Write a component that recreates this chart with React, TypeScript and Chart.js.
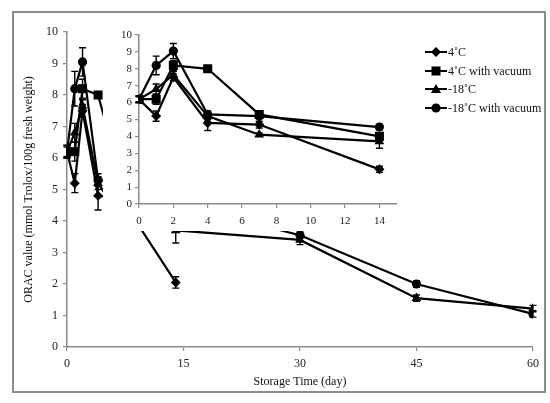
import React, { useEffect, useRef } from "react";
import { Chart, registerables } from "chart.js";

Chart.register(...registerables);

// storage days and ORAC values (mmol Trolox/100g fresh weight)
const days = [0, 1, 2, 4, 7, 14, 30, 45, 60];
const seriesNames = ["4˚C", "4˚C with vacuum", "-18˚C", "-18˚C with vacuum"];
const chilled = [6.2, 5.2, 7.5, 4.8, 4.7, 2.05];
const chilledVacuum = [6.2, 6.2, 8.2, 8.0, 5.3, 4.0];
const frozen = [6.2, 6.8, 7.65, 5.2, 4.1, 3.7, 3.4, 1.55, 1.22];
const frozenVacuum = [6.2, 8.2, 9.05, 5.3, 5.2, 4.55, 3.55, 2.0, 1.05];

// standard deviations (error bars)
const chilledErr = [0.15, 0.3, 0.2, 0.45, 0.2, 0.18];
const chilledVacuumErr = [0.2, 0.3, 0.3, 0.1, 0.2, 0.2];
const frozenErr = [0.2, 0.3, 0.2, 0.2, 0.1, 0.4, 0.15, 0.1, 0.1];
const frozenVacuumErr = [0.2, 0.55, 0.45, 0.2, 0.1, 0.15, 0.1, 0.1, 0.1];

const mainXTicks = [0, 15, 30, 45, 60];
const insetXTicks = [0, 2, 4, 6, 8, 10, 12, 14];

const pointStyles = ["rectRot", "rect", "triangle", "circle"];
const pointRadii = [5, 6.4, 5.6, 4.6];

const FONT = "'Liberation Serif', 'Times New Roman', serif";
const AXIS = "#8a8a8a";

const errorBars = {
  id: "errorBars",
  afterDatasetsDraw(chart: any) {
    const { ctx, scales } = chart;
    ctx.save();
    ctx.strokeStyle = "#000";
    ctx.lineWidth = 1.4;
    chart.data.datasets.forEach((ds: any) => {
      ds.data.forEach((p: any, j: number) => {
        const e = ds.errors[j];
        if (!e) return;
        const px = scales.x.getPixelForValue(p.x);
        const top = scales.y.getPixelForValue(p.y + e);
        const bot = scales.y.getPixelForValue(p.y - e);
        ctx.beginPath();
        ctx.moveTo(px, top);
        ctx.lineTo(px, bot);
        ctx.moveTo(px - 3.5, top);
        ctx.lineTo(px + 3.5, top);
        ctx.moveTo(px - 3.5, bot);
        ctx.lineTo(px + 3.5, bot);
        ctx.stroke();
      });
    });
    ctx.restore();
  },
};

function makeDatasets(maxDay: number) {
  const values = [chilled, chilledVacuum, frozen, frozenVacuum];
  const errs = [chilledErr, chilledVacuumErr, frozenErr, frozenVacuumErr];
  return values.map((vals, i) => {
    const data = vals
      .map((v, j) => ({ x: days[j], y: v }))
      .filter((p) => p.x <= maxDay);
    return {
      label: seriesNames[i],
      data,
      errors: errs[i],
      borderColor: "#000",
      backgroundColor: "#000",
      borderWidth: 2.2,
      pointStyle: pointStyles[i],
      pointRadius: pointRadii[i],
      pointBorderWidth: 0,
      pointBackgroundColor: "#000",
      tension: 0,
    };
  });
}

function axisCommon(size: number) {
  return {
    border: { display: true, color: AXIS, width: 1.5 },
    grid: { drawOnChartArea: false, color: AXIS, tickColor: AXIS, tickLength: 4, lineWidth: 1.2 },
    ticks: { color: "#222", font: { family: FONT, size } },
  };
}

const MainChart: React.FC = () => {
  const ref = useRef<HTMLCanvasElement>(null);
  useEffect(() => {
    if (!ref.current) return;
    const base = axisCommon(12);
    const chart = new Chart(ref.current, {
      type: "line",
      data: { datasets: makeDatasets(60) as any },
      options: {
        animation: false,
        responsive: false,
        layout: { padding: { left: 0, right: 17, top: 32, bottom: 0 } },
        plugins: { legend: { display: false }, tooltip: { enabled: false } },
        scales: {
          x: {
            ...base,
            type: "linear",
            min: 0,
            max: 60,
            afterFit: (s: any) => { s.height = 56; },
            afterBuildTicks: (s: any) => { s.ticks = mainXTicks.map((v) => ({ value: v })); },
            ticks: { ...base.ticks, padding: 6, maxRotation: 0 },
            title: {
              display: true,
              text: "Storage Time (day)",
              color: "#111",
              font: { family: FONT, size: 12 },
              padding: { top: 0, bottom: 14 },
            },
          },
          y: {
            ...base,
            min: 0,
            max: 10,
            afterFit: (s: any) => { s.width = 67; },
            ticks: { ...base.ticks, stepSize: 1, padding: 5 },
            title: {
              display: true,
              text: "ORAC value (mmol Trolox/100g fresh weight)",
              color: "#111",
              font: { family: FONT, size: 12 },
              padding: { top: 22, bottom: 0 },
            },
          },
        },
      } as any,
      plugins: [errorBars],
    });
    return () => chart.destroy();
  }, []);
  return (
    <canvas
      ref={ref}
      width={550}
      height={403}
      style={{ position: "absolute", left: 0, top: 0, width: 550, height: 403 }}
    />
  );
};

const InsetChart: React.FC = () => {
  const ref = useRef<HTMLCanvasElement>(null);
  useEffect(() => {
    if (!ref.current) return;
    const base = axisCommon(11);
    const chart = new Chart(ref.current, {
      type: "line",
      data: { datasets: makeDatasets(14) as any },
      options: {
        animation: false,
        responsive: false,
        layout: { padding: { left: 0, right: 0, top: 13, bottom: 0 } },
        plugins: { legend: { display: false }, tooltip: { enabled: false } },
        scales: {
          x: {
            ...base,
            type: "linear",
            min: 0,
            max: 15,
            afterFit: (s: any) => { s.height = 27; },
            afterBuildTicks: (s: any) => { s.ticks = insetXTicks.map((v) => ({ value: v })); },
            ticks: { ...base.ticks, padding: 7, maxRotation: 0 },
          },
          y: {
            ...base,
            min: 0,
            max: 10,
            afterFit: (s: any) => { s.width = 36; },
            ticks: { ...base.ticks, stepSize: 1, padding: 3 },
          },
        },
      } as any,
      plugins: [errorBars],
    });
    return () => chart.destroy();
  }, []);
  return (
    <canvas
      ref={ref}
      width={300}
      height={209}
      style={{ position: "absolute", left: 103, top: 22, width: 300, height: 209, background: "#fff" }}
    />
  );
};

const Marker: React.FC<{ kind: string }> = ({ kind }) => (
  <svg width={22} height={12} style={{ position: "absolute", left: 0, top: 1 }}>
    <line x1={0} y1={6} x2={22} y2={6} stroke="#000" strokeWidth={2} />
    {kind === "rectRot" && <polygon points="11,1 16,6 11,11 6,6" fill="#000" />}
    {kind === "rect" && <rect x={6.5} y={1.5} width={9} height={9} fill="#000" />}
    {kind === "triangle" && <polygon points="11,1 16,10 6,10" fill="#000" />}
    {kind === "circle" && <circle cx={11} cy={6} r={4.6} fill="#000" />}
  </svg>
);

const Legend: React.FC = () => (
  <div style={{ position: "absolute", left: 425, top: 45, fontFamily: FONT, fontSize: 12, color: "#111" }}>
    {seriesNames.map((name, i) => (
      <div key={name} style={{ position: "relative", height: 18.7, lineHeight: "14px", paddingLeft: 23, whiteSpace: "nowrap" }}>
        <Marker kind={pointStyles[i]} />
        {name}
      </div>
    ))}
  </div>
);

export default function App() {
  return (
    <div style={{ position: "fixed", left: 0, top: 0, width: 550, height: 403, background: "#fff", overflow: "hidden" }}>
      <div
        style={{
          position: "absolute",
          left: 12,
          top: 11,
          width: 534,
          height: 382,
          border: "2px solid #8c8c8c",
          boxSizing: "border-box",
        }}
      />
      <MainChart />
      <InsetChart />
      <Legend />
    </div>
  );
}
